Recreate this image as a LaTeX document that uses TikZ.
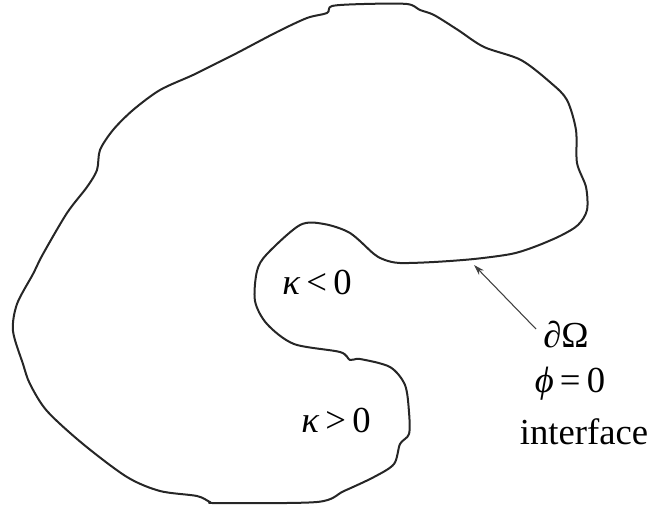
\documentclass[tikz,border=0pt]{standalone}
\usepackage{fontspec}
\setmainfont{Liberation Serif}
\newfontfamily\phifont{DejaVu Serif}
\usetikzlibrary{arrows.meta}
\newcommand{\myphi}{\itshape\iffontchar\font"03D5 ϕ\else{\phifont\itshape ϕ}\fi\upshape}
\begin{document}
\begin{tikzpicture}[x=0.75pt,y=-0.75pt,
  boundary/.style={line width=1.5pt, black!85, line join=round},
  lbl/.style={font=\fontsize{27.5}{32}\selectfont, inner sep=0pt},
  pointer/.style={line width=0.8pt, black!75, -{Stealth[length=8pt,width=5pt]}}]
\useasboundingbox (0,0) rectangle (651,508);
\draw[boundary] plot[smooth cycle, tension=0.5] coordinates {
  (332,6) (364,4) (407,4) (420,10) (434,15) (458,30) (484,47) (521,60)
  (551,83) (567,100) (576,130) (577,163) (586,187) (587,210) (578,225)
  (560,236) (534,247) (511,254) (474,259) (434,262) (400,263) (385,260)
  (374,254) (350,233) (324,224) (300,225) (267,254) (257,271) (255,301)
  (267,324) (294,344) (340,352) (350,360) (360,359) (390,367) (405,385)
  (409,412) (409,434) (400,444) (394,464) (374,477) (344,491) (317,502)
  (217,503) (210,502) (197,496) (160,491) (127,477) (83,444) (47,411)
  (30,384) (23,364) (13,331) (17,304) (33,274) (43,254) (67,213) (87,187)
  (97,170) (100,150) (113,130) (133,110) (160,90) (193,75) (217,63)
  (237,53) (277,32) (307,18) (327,13)};
\node[lbl] (kneg) at (317,282) {\textit{κ}\,<\,0};
\node[lbl] (kpos) at (336,420) {\textit{κ}\,>\,0};
\node[lbl] (dom) at (566,335) {∂Ω};
\node[lbl] (phi) at (570,384) {{\myphi}\,=\,0};
\node[lbl] (intf) at (584,432) {interface};
\coordinate (tip) at (474,265);
\coordinate (tail) at (536,329);
\draw[pointer] (tail) -- (tip);
\end{tikzpicture}
\end{document}
